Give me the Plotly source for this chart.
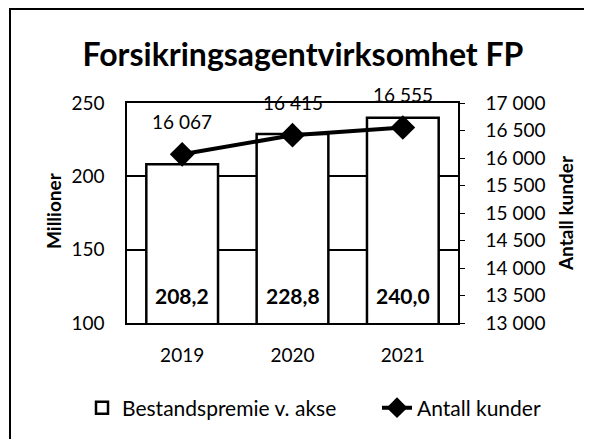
import plotly.graph_objects as go

years = ["2019", "2020", "2021"]
premie = [208.2, 228.8, 240.0]          # Millioner (left axis)
kunder = [16067, 16415, 16555]          # Antall kunder (right axis)
left_range = [100, 250]
right_range = [13000, 17000]

FONT = "Lato"
# the page body adds an 8 px margin, so the figure is offset by 8 px
OFF = 8
PAGE_W, PAGE_H = 592, 439
W, H = PAGE_W - OFF, PAGE_H - OFF
PL, PT, PR, PB = 127, 103, 458, 323          # plot area in page pixels
L, T, R, B = PL - OFF, PT - OFF, PAGE_W - PR, PAGE_H - PB
pw, ph = PR - PL, PB - PT

def fmt_dec(v):
    return f"{v:.1f}".replace(".", ",")

def fmt_int(v):
    return f"{v:,}".replace(",", " ")

fig = go.Figure()
fig.add_trace(go.Bar(
    x=years, y=premie, name="Bestandspremie v. akse", legend="legend",
    marker=dict(color="white", line=dict(color="black", width=2.5)),
    yaxis="y",
))
fig.add_trace(go.Scatter(
    x=years, y=kunder, name="Antall kunder", yaxis="y2", legend="legend2",
    mode="lines+markers",
    line=dict(color="black", width=4),
    marker=dict(symbol="diamond", size=19, color="black"),
    cliponaxis=False,
))

annotations = []
for i, v in enumerate(premie):
    annotations.append(dict(x=i, y=left_range[0], xref="x", yref="y", text=f"<b>{fmt_dec(v)}</b>",
                            showarrow=False, yanchor="bottom", yshift=13,
                            font=dict(family=FONT, size=21, color="black")))
for i, v in enumerate(kunder):
    annotations.append(dict(x=i, y=v, xref="x", yref="y2", text=fmt_int(v),
                            showarrow=False, yanchor="middle", yshift=33,
                            font=dict(family=FONT, size=19, color="black")))
# left axis title
annotations.append(dict(x=(53 - PL) / pw, y=(PB - 211) / ph, xref="paper", yref="paper",
                        text="<b>Millioner</b>", textangle=-90, showarrow=False,
                        xanchor="center", yanchor="middle",
                        font=dict(family=FONT, size=19, color="black")))

leg_y = -(408 - PB) / ph
fig.update_layout(
    width=W, height=H, margin=dict(l=L, r=R, t=T, b=B, autoexpand=False),
    paper_bgcolor="white", plot_bgcolor="white",
    separators=", ",
    font=dict(family=FONT, size=19, color="black"),
    title=dict(text="<b>Forsikringsagentvirksomhet FP</b>", x=(303 - OFF) / W, xanchor="center",
               y=1 - (55 - OFF) / H, yanchor="middle", yref="container",
               font=dict(family=FONT, size=32, color="black")),
    bargap=0.35,
    showlegend=True,
    legend=dict(orientation="h", x=(82 - PL) / pw, xanchor="left", y=leg_y, yanchor="middle",
                font=dict(family=FONT, size=21), bgcolor="rgba(0,0,0,0)"),
    legend2=dict(orientation="h", x=(377 - PL) / pw, xanchor="left", y=leg_y, yanchor="middle",
                 font=dict(family=FONT, size=21), bgcolor="rgba(0,0,0,0)"),
    xaxis=dict(type="category", range=[-0.5, len(years) - 0.5], showline=True, linecolor="black",
               linewidth=1.5, mirror=True, ticks="", tickfont=dict(size=19), ticklabelstandoff=14),
    yaxis=dict(range=left_range, dtick=50, showline=True, linecolor="black", linewidth=1.5,
               showgrid=True, gridcolor="black", gridwidth=1.5, zeroline=False,
               ticks="", ticklabelstandoff=17, tickfont=dict(size=19)),
    yaxis2=dict(range=right_range, dtick=500, overlaying="y", side="right",
                showline=True, linecolor="black", linewidth=1.5, showgrid=False, zeroline=False,
                ticks="outside", ticklen=5, tickcolor="black", tickformat=",d",
                ticklabelstandoff=17, tickfont=dict(size=19),
                title=dict(text="<b>Antall kunder</b>", font=dict(size=19), standoff=15)),
    annotations=annotations,
    shapes=[dict(type="rect", xref="paper", yref="paper",
                 x0=(10 - PL) / pw, x1=(PAGE_W + 5 - PL) / pw,
                 y0=-(PAGE_H + 5 - PB) / ph, y1=(PB - 9) / ph,
                 line=dict(color="black", width=2), layer="below")],
)

fig.write_html("out.html")
